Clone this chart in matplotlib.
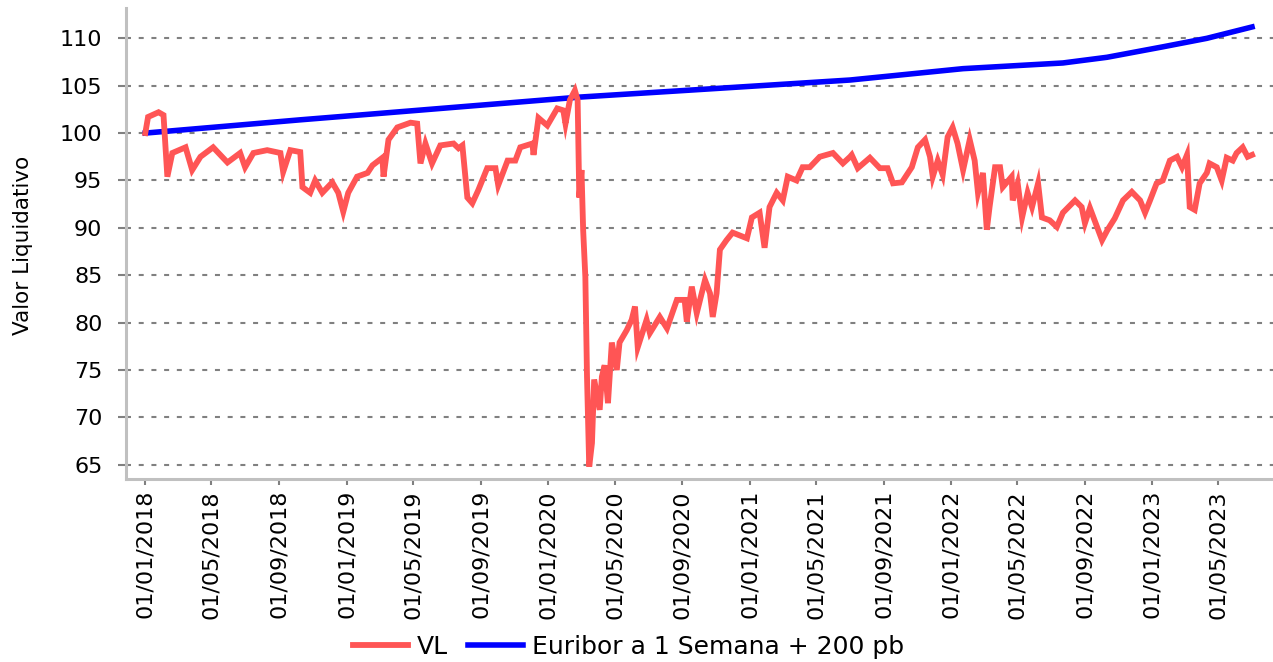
import matplotlib
matplotlib.use('Agg')
import matplotlib.pyplot as plt
import matplotlib.dates as mdates
import pandas as pd

# valor liquidativo (VL)
vl_dates = [
    '2018-01-01', '2018-01-06', '2018-01-25', '2018-02-03', '2018-02-10', '2018-02-19',
    '2018-03-15', '2018-03-27', '2018-04-11', '2018-05-04', '2018-05-30', '2018-06-22',
    '2018-07-01', '2018-07-16', '2018-08-10', '2018-09-03', '2018-09-08', '2018-09-21',
    '2018-10-09', '2018-10-13', '2018-10-27', '2018-11-05', '2018-11-18', '2018-12-06',
    '2018-12-17', '2018-12-26', '2019-01-04', '2019-01-20', '2019-02-08', '2019-02-17',
    '2019-03-07', '2019-03-09', '2019-03-18', '2019-04-03', '2019-04-27', '2019-05-09',
    '2019-05-15', '2019-05-24', '2019-06-05', '2019-06-20', '2019-07-14', '2019-07-23',
    '2019-07-30', '2019-08-08', '2019-08-17', '2019-08-28', '2019-09-13', '2019-09-28',
    '2019-10-03', '2019-10-20', '2019-11-03', '2019-11-12', '2019-12-04', '2019-12-06',
    '2019-12-15', '2019-12-31', '2020-01-18', '2020-01-29', '2020-02-02', '2020-02-10',
    '2020-02-19', '2020-02-24', '2020-02-27', '2020-03-02', '2020-03-05', '2020-03-09',
    '2020-03-12', '2020-03-16', '2020-03-21', '2020-03-25', '2020-04-04', '2020-04-08',
    '2020-04-13', '2020-04-19', '2020-04-26', '2020-05-05', '2020-05-10', '2020-05-23',
    '2020-06-01', '2020-06-07', '2020-06-12', '2020-06-28', '2020-07-04', '2020-07-22',
    '2020-08-04', '2020-08-22', '2020-09-05', '2020-09-09', '2020-09-18', '2020-09-27',
    '2020-10-12', '2020-10-21', '2020-10-26', '2020-11-02', '2020-11-08', '2020-11-20',
    '2020-12-01', '2020-12-27', '2021-01-05', '2021-01-19', '2021-01-28', '2021-02-06',
    '2021-02-19', '2021-03-02', '2021-03-11', '2021-03-27', '2021-04-07', '2021-04-20',
    '2021-05-08', '2021-06-01', '2021-06-19', '2021-07-02', '2021-07-05', '2021-07-16',
    '2021-08-07', '2021-08-25', '2021-09-08', '2021-09-18', '2021-10-04', '2021-10-22',
    '2021-11-02', '2021-11-15', '2021-11-24', '2021-11-29', '2021-12-08', '2021-12-17',
    '2021-12-26', '2022-01-04', '2022-01-13', '2022-01-23', '2022-02-04', '2022-02-13',
    '2022-02-19', '2022-02-28', '2022-03-07', '2022-03-12', '2022-03-22', '2022-03-31',
    '2022-04-05', '2022-04-21', '2022-04-23', '2022-05-02', '2022-05-10', '2022-05-20',
    '2022-05-28', '2022-06-08', '2022-06-15', '2022-06-29', '2022-07-12', '2022-07-23',
    '2022-08-14', '2022-08-26', '2022-09-01', '2022-09-10', '2022-09-23', '2022-10-02',
    '2022-10-12', '2022-10-25', '2022-11-09', '2022-11-25', '2022-12-10', '2022-12-19',
    '2022-12-28', '2023-01-09', '2023-01-20', '2023-02-02', '2023-02-15', '2023-02-24',
    '2023-03-05', '2023-03-10', '2023-03-19', '2023-03-28', '2023-04-10', '2023-04-15',
    '2023-04-28', '2023-05-07', '2023-05-16', '2023-05-27', '2023-06-03', '2023-06-14',
    '2023-06-23', '2023-07-01',
]
vl_values = [
    100.0, 101.7, 102.2, 101.9, 95.4, 97.9,
    98.5, 96.1, 97.5, 98.5, 96.9, 97.9,
    96.4, 97.9, 98.2, 97.9, 95.9, 98.2,
    98.0, 94.3, 93.7, 95.0, 93.7, 94.8,
    93.7, 91.7, 93.7, 95.4, 95.8, 96.6,
    97.4, 95.4, 99.3, 100.6, 101.1, 101.0,
    96.8, 98.9, 96.8, 98.7, 98.9, 98.4,
    98.7, 93.2, 92.6, 94.0, 96.3, 96.3,
    94.5, 97.1, 97.1, 98.5, 98.9, 97.7,
    101.6, 100.8, 102.6, 102.4, 101.0, 103.5,
    104.5, 103.5, 93.2, 96.1, 89.8, 84.8,
    74.3, 64.8, 67.3, 74.0, 70.8, 74.3,
    75.5, 71.5, 77.9, 75.0, 77.9, 79.2,
    80.3, 81.7, 77.4, 80.3, 78.9, 80.6,
    79.4, 82.4, 82.4, 80.1, 83.8, 81.0,
    84.5, 83.1, 80.6, 83.1, 87.7, 88.7,
    89.5, 88.9, 91.1, 91.6, 87.9, 92.2,
    93.7, 92.9, 95.4, 95.0, 96.4, 96.4,
    97.5, 97.9, 96.8, 97.5, 97.7, 96.3,
    97.4, 96.3, 96.3, 94.7, 94.8, 96.4,
    98.5, 99.3, 97.5, 95.4, 97.1, 95.6,
    99.6, 100.6, 98.9, 96.1, 99.3, 97.1,
    93.7, 95.8, 89.8, 92.2, 96.4, 96.4,
    94.3, 95.4, 92.9, 94.7, 91.1, 93.7,
    92.2, 94.7, 91.1, 90.8, 90.1, 91.6,
    92.9, 92.2, 90.5, 92.1, 90.1, 88.7,
    89.8, 91.0, 92.9, 93.8, 92.9, 91.6,
    92.9, 94.7, 95.0, 97.1, 97.5, 96.4,
    97.7, 92.2, 91.9, 94.7, 95.8, 96.8,
    96.4, 95.0, 97.4, 97.1, 97.9, 98.5,
    97.5, 97.7,
]

# benchmark: Euribor a 1 semana + 200 pb
ref_dates = ['2018-01-01', '2018-10-09', '2019-05-09', '2020-02-28', '2021-07-02',
             '2022-01-23', '2022-07-23', '2022-10-11', '2023-01-20', '2023-04-10',
             '2023-07-01']
ref_values = [100.0, 101.4, 102.4, 103.8, 105.6,
              106.8, 107.4, 108.0, 109.1, 110.0,
              111.2]

vl = pd.Series(vl_values, index=pd.to_datetime(vl_dates))
ref = pd.Series(ref_values, index=pd.to_datetime(ref_dates))

fig = plt.figure(figsize=(12.73, 6.62), dpi=100)
ax = fig.add_axes([126 / 1273, 1 - 479 / 662, 1 - 126 / 1273, (479 - 8) / 662])

l_ref, = ax.plot(ref.index, ref.values, color='#0000ff', lw=4, zorder=3,
                 label='Euribor a 1 Semana + 200 pb')
l_vl, = ax.plot(vl.index, vl.values, color='#ff5555', lw=4.2, zorder=4,
                solid_joinstyle='miter', label='VL')

ax.set_xlim(pd.Timestamp('2017-11-27'), pd.Timestamp('2023-08-08'))
ax.set_ylim(63.5, 113.2)
ax.set_yticks(range(65, 111, 5))

ax.xaxis.set_major_locator(mdates.MonthLocator(bymonth=[1, 5, 9], bymonthday=1))
ax.xaxis.set_major_formatter(mdates.DateFormatter('%d/%m/%Y'))
plt.setp(ax.get_xticklabels(), rotation=90, ha='center', va='top')

ax.yaxis.grid(True, color='#808080', lw=1.5, linestyle=(0, (2.4, 3.7)), zorder=1)
ax.set_axisbelow(True)

for s in ['top', 'right']:
    ax.spines[s].set_visible(False)
for s in ['left', 'bottom']:
    ax.spines[s].set_color('#c0c0c0')
    ax.spines[s].set_linewidth(2.2)

ax.tick_params(axis='y', length=6, width=1.5, color='#808080', pad=11, labelsize=16)
ax.tick_params(axis='x', length=4, width=1.5, color='#808080', pad=4, labelsize=16)

fig.text(23 / 1273, 1 - 245 / 662, 'Valor Liquidativo', rotation=90,
         ha='center', va='center', fontsize=15.5)

fig.legend(handles=[l_vl, l_ref], loc='center', bbox_to_anchor=(0.494, 0.023),
           ncol=2, frameon=False, fontsize=18, handlelength=2.2,
           handletextpad=0.35, columnspacing=0.8)

fig.savefig('out.png', dpi=100)
